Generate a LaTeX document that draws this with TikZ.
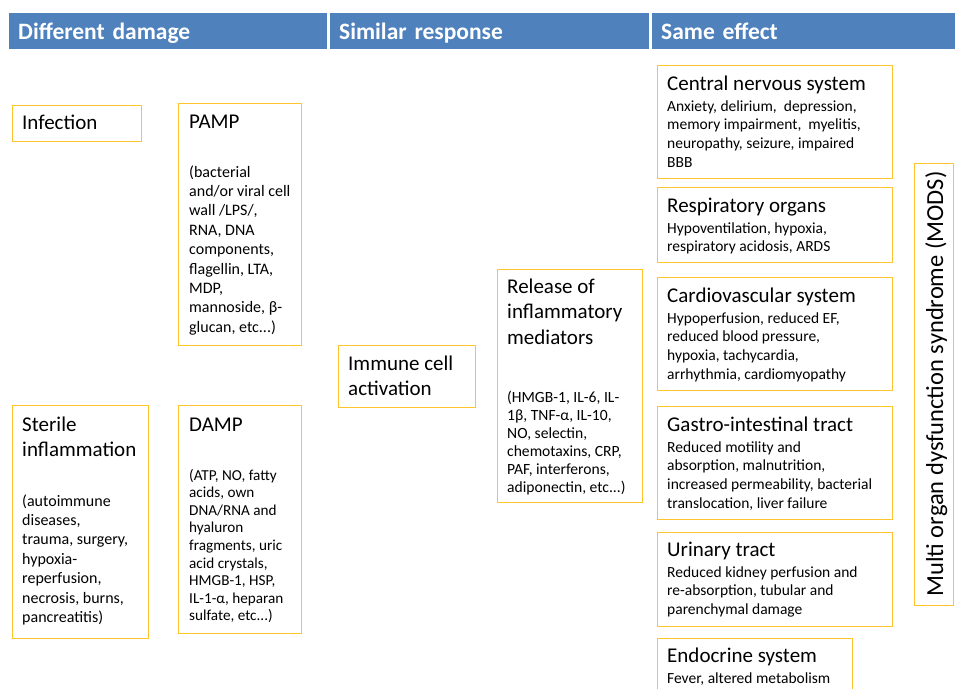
\documentclass[tikz,border=0pt]{standalone}
\usepackage{fontspec}
\setmainfont{Carlito}
\definecolor{hdrblue}{RGB}{79,129,189}
\definecolor{boxgold}{RGB}{255,196,45}
\newcommand{\fsz}[2]{\fontsize{#1}{#2}\selectfont}
% multi-line nodes sit on the baseline of their last line
\tikzset{
  hdr/.style={fill=hdrblue, text=white, font=\fsz{23.5}{28}\bfseries,
    anchor=north west, minimum height=36pt, inner xsep=9pt, inner ysep=0pt,
    text height=19pt, text depth=3pt, align=left},
  orgbox/.style={draw=boxgold, line width=1.1pt, inner sep=0pt, anchor=north west},
  ttl/.style={inner sep=0pt, anchor=base west, align=left, font=\fsz{21}{25.6}},
  widebody/.style={inner sep=0pt, anchor=base west, align=left, font=\fsz{16}{19.4}},
  dampbody/.style={inner sep=0pt, anchor=base west, align=left, font=\fsz{15.2}{17.6}},
  relbody/.style={inner sep=0pt, anchor=base west, align=left, font=\fsz{15.6}{18}},
  orgbody/.style={inner sep=0pt, anchor=base west, align=left, font=\fsz{15.5}{18.9}},
}
\begin{document}
\begin{tikzpicture}[x=1pt, y=-1pt]
  \clip (0,0) rectangle (955,688);

  % Header bar
  \node[hdr, text width=300pt] (hdamage) at (9,13) {Different damage};
  \node[hdr, text width=301pt] (hresponse) at (330,13) {Similar response};
  \node[hdr, text width=300pt] (heffect) at (652,13) {Same effect};

  % Different damage
  \node[orgbox, minimum width=129pt, minimum height=36pt] (infbox) at (12,105) {};
  \node[ttl] (inftxt) at (22,129) {Infection};

  \node[orgbox, minimum width=123pt, minimum height=242pt] (pampbox) at (178,103) {};
  \node[ttl] (pamptxt) at (189,128) {PAMP};
  \node[widebody] (pampbody) at (189,332.2) {(bacterial\\and/or viral cell\\wall /LPS/,\\RNA, DNA\\components,\\flagellin, LTA,\\MDP,\\mannoside, β-\\glucan, etc...)};

  \node[orgbox, minimum width=136pt, minimum height=233pt] (sterbox) at (12,405) {};
  \node[ttl] (stertxt) at (22,456.6) {Sterile\\inflammation};
  \node[widebody] (sterbody) at (22,622.4) {(autoimmune\\diseases,\\trauma, surgery,\\hypoxia-\\reperfusion,\\necrosis, burns,\\pancreatitis)};

  \node[orgbox, minimum width=123pt, minimum height=228pt] (dampbox) at (178,405) {};
  \node[ttl] (damptxt) at (189,431) {DAMP};
  \node[dampbody] (dampbody) at (189,620.8) {(ATP, NO, fatty\\acids, own\\DNA/RNA and\\hyaluron\\fragments, uric\\acid crystals,\\HMGB-1, HSP,\\IL-1-α, heparan\\sulfate, etc...)};

  % Similar response
  \node[orgbox, minimum width=137pt, minimum height=62pt] (immbox) at (338,345) {};
  \node[ttl] (immtxt) at (348,395.6) {Immune cell\\activation};

  \node[orgbox, minimum width=145pt, minimum height=233pt] (relbox) at (497,269) {};
  \node[ttl] (reltxt) at (507,344.2) {Release of\\inflammatory\\mediators};
  \node[relbody] (relbody) at (507,492) {(HMGB-1, IL-6, IL-\\1β, TNF-α, IL-10,\\NO, selectin,\\chemotaxins, CRP,\\PAF, interferons,\\adiponectin, etc...)};

  % Same effect
  \node[orgbox, minimum width=235pt, minimum height=113pt] (cnsbox) at (657,65) {};
  \node[ttl] (cnstxt) at (667,90) {Central nervous system};
  \node[orgbody] (cnsbody) at (667,167.7) {Anxiety, delirium,\ \ depression,\\memory impairment,\ \ myelitis,\\neuropathy, seizure, impaired\\BBB};

  \node[orgbox, minimum width=235pt, minimum height=75pt] (resbox) at (657,187) {};
  \node[ttl] (restxt) at (667,212) {Respiratory organs};
  \node[orgbody] (resbody) at (667,251.9) {Hypoventilation, hypoxia,\\respiratory acidosis, ARDS};

  \node[orgbox, minimum width=235pt, minimum height=113pt] (cardbox) at (657,277) {};
  \node[ttl] (cardtxt) at (667,302) {Cardiovascular system};
  \node[orgbody] (cardbody) at (667,379.7) {Hypoperfusion, reduced EF,\\reduced blood pressure,\\hypoxia, tachycardia,\\arrhythmia, cardiomyopathy};

  \node[orgbox, minimum width=235pt, minimum height=113pt] (gibox) at (657,406) {};
  \node[ttl] (gitxt) at (667,431) {Gastro-intestinal tract};
  \node[orgbody] (gibody) at (667,508.7) {Reduced motility and\\absorption, malnutrition,\\increased permeability, bacterial\\translocation, liver failure};

  \node[orgbox, minimum width=235pt, minimum height=94pt] (urbox) at (657,532) {};
  \node[ttl] (urtxt) at (667,556) {Urinary tract};
  \node[orgbody] (urbody) at (667,614.8) {Reduced kidney perfusion and\\re-absorption, tubular and\\parenchymal damage};

  \node[orgbox, minimum width=195pt, minimum height=70pt] (endbox) at (657,638) {};
  \node[ttl] (endtxt) at (667,662) {Endocrine system};
  \node[orgbody] (endbody) at (667,683) {Fever, altered metabolism};

  % Outcome
  \node[orgbox, minimum width=39pt, minimum height=442pt] (modsbox) at (914,163) {};
  \node[rotate=90, anchor=base, inner sep=0pt, font=\fsz{24.5}{29}] (modstxt) at (943,384) {Multi organ dysfunction syndrome (MODS)};
\end{tikzpicture}
\end{document}
